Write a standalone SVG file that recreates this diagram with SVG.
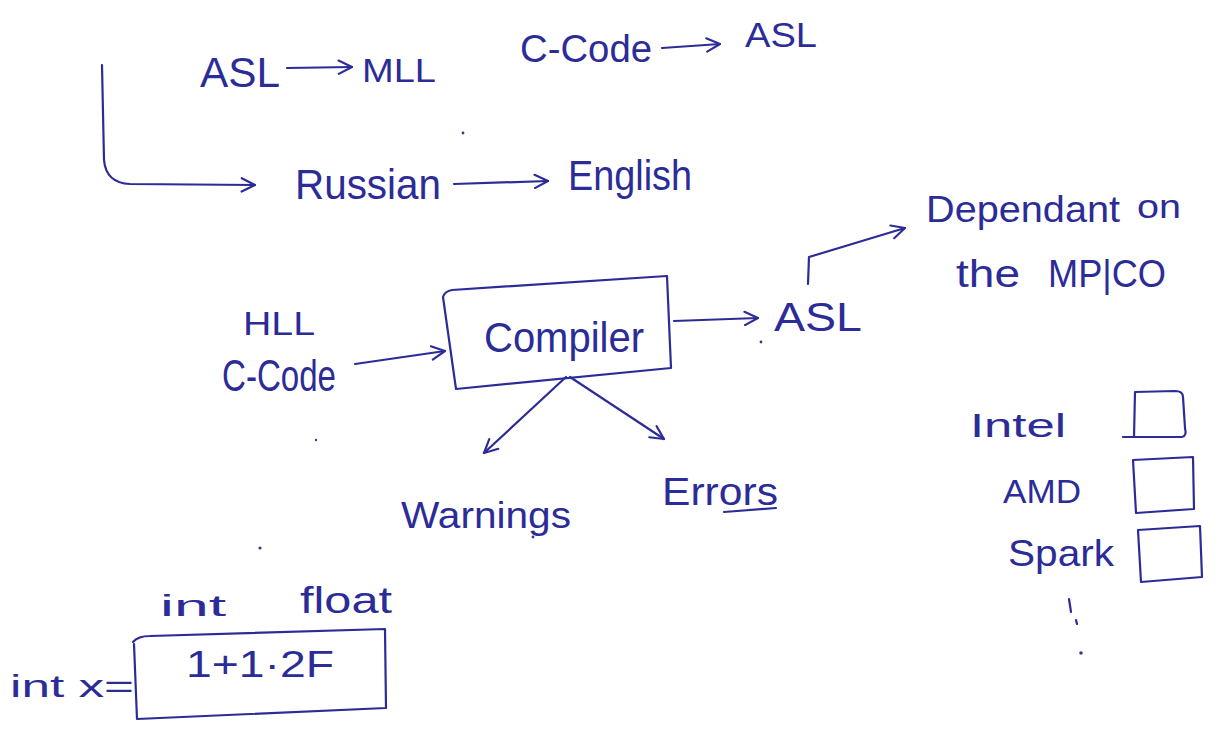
<svg xmlns="http://www.w3.org/2000/svg" width="1224" height="731" viewBox="0 0 1224 731">
  <style>
    .ink { fill: none; stroke: #2c2c98; stroke-width: 2.2; stroke-linecap: round; stroke-linejoin: round; }
    .t { fill: #2c2c98; font-family: "Liberation Sans", "DejaVu Sans", sans-serif; }
    .dot { fill: #3a3a80; }
  </style>
  <defs>
    <marker id="head" viewBox="0 0 12 12" refX="11" refY="6" markerWidth="16" markerHeight="16" markerUnits="userSpaceOnUse" orient="auto">
      <path d="M1,1 L11,6 L1,11" fill="none" stroke="#2c2c98" stroke-width="1.6" stroke-linecap="round" stroke-linejoin="round"/>
    </marker>
  </defs>
  <rect width="1224" height="731" fill="#ffffff"/>

  <!-- top row: translation examples -->
  <g id="asl-top">
    <text class="t" x="200" y="87" font-size="42" textLength="80" lengthAdjust="spacingAndGlyphs">ASL</text>
  </g>
  <g id="mll">
    <text class="t" x="362" y="82" font-size="34" textLength="74" lengthAdjust="spacingAndGlyphs">MLL</text>
  </g>
  <g id="ccode-top">
    <text class="t" x="520" y="62" font-size="38" textLength="132" lengthAdjust="spacingAndGlyphs">C-Code</text>
  </g>
  <g id="asl-right">
    <text class="t" x="745" y="47" font-size="35" textLength="72" lengthAdjust="spacingAndGlyphs">ASL</text>
  </g>
  <g id="russian">
    <text class="t" x="295" y="199" font-size="42" textLength="146" lengthAdjust="spacingAndGlyphs">Russian</text>
  </g>
  <g id="english">
    <text class="t" x="568" y="190" font-size="42" textLength="124" lengthAdjust="spacingAndGlyphs">English</text>
  </g>

  <!-- compiler stage -->
  <g id="hll-input">
    <text class="t" x="243" y="335" font-size="34" textLength="72" lengthAdjust="spacingAndGlyphs">HLL</text>
    <text class="t" x="222" y="391" font-size="44" textLength="114" lengthAdjust="spacingAndGlyphs">C-Code</text>
  </g>
  <g id="compiler">
    <path class="ink" d="M443,297 Q445,291 452,290 L667,276 L671,368 L456,389 Z"/>
    <text class="t" x="484" y="352" font-size="42" textLength="160" lengthAdjust="spacingAndGlyphs">Compiler</text>
  </g>
  <g id="asl-output">
    <text class="t" x="774" y="331" font-size="40" textLength="88" lengthAdjust="spacingAndGlyphs">ASL</text>
  </g>
  <g id="dependant">
    <text class="t" x="926" y="222" font-size="36" textLength="194" lengthAdjust="spacingAndGlyphs">Dependant</text>
    <text class="t" x="1137" y="218" font-size="34" textLength="44" lengthAdjust="spacingAndGlyphs">on</text>
    <text class="t" x="956" y="287" font-size="38" textLength="64" lengthAdjust="spacingAndGlyphs">the</text>
    <text class="t" x="1048" y="287" font-size="38" textLength="118" lengthAdjust="spacingAndGlyphs">MP|CO</text>
  </g>
  <g id="warnings">
    <text class="t" x="401" y="528" font-size="36" textLength="170" lengthAdjust="spacingAndGlyphs">Warnings</text>
  </g>
  <g id="errors">
    <text class="t" x="662" y="505" font-size="38" textLength="116" lengthAdjust="spacingAndGlyphs">Errors</text>
    <path class="ink" d="M724,512 L776,508"/>
  </g>

  <!-- processor checklist -->
  <g id="intel">
    <text class="t" x="970" y="437" font-size="34" textLength="96" lengthAdjust="spacingAndGlyphs">Intel</text>
    <path class="ink" d="M1123,437 L1182,437 Q1187,436 1185,428 L1183,397 Q1183,391 1175,391 L1135,392 L1134,437"/>
  </g>
  <g id="amd">
    <text class="t" x="1003" y="503" font-size="34" textLength="78" lengthAdjust="spacingAndGlyphs">AMD</text>
    <path class="ink" d="M1133,460 L1193,457 L1194,509 L1136,513 Z"/>
  </g>
  <g id="spark">
    <text class="t" x="1008" y="566" font-size="36" textLength="106" lengthAdjust="spacingAndGlyphs">Spark</text>
    <path class="ink" d="M1138,530 L1200,526 L1202,577 L1141,582 Z"/>
  </g>
  <g id="more">
    <path class="ink" d="M1069,599 L1071,612 M1076,620 L1077,624"/>
    <circle class="dot" cx="1081" cy="653" r="1.8"/>
  </g>

  <!-- type promotion example -->
  <g id="type-labels">
    <text class="t" x="160" y="616" font-size="30" textLength="66" lengthAdjust="spacingAndGlyphs">int</text>
    <text class="t" x="300" y="613" font-size="36" textLength="92" lengthAdjust="spacingAndGlyphs">float</text>
  </g>
  <g id="expression">
    <text class="t" x="10" y="697" font-size="32" textLength="124" lengthAdjust="spacingAndGlyphs">int x=</text>
    <path class="ink" d="M133,642 Q138,636 150,636 L385,629 L386,708 L137,719 L134,644"/>
    <text class="t" x="186" y="677" font-size="36" textLength="148" lengthAdjust="spacingAndGlyphs">1+1·2F</text>
  </g>

  <!-- connectors -->
  <g id="connectors">
    <path class="ink" d="M102,65 L104,160 Q106,183 130,184 L255,185" marker-end="url(#head)"/>
    <path class="ink" d="M287,68 L352,67" marker-end="url(#head)"/>
    <path class="ink" d="M662,48 L720,44" marker-end="url(#head)"/>
    <path class="ink" d="M454,184 L548,181" marker-end="url(#head)"/>
    <path class="ink" d="M355,364 L445,351" marker-end="url(#head)"/>
    <path class="ink" d="M674,321 L758,318" marker-end="url(#head)"/>
    <path class="ink" d="M808,284 L809,257 L905,228" marker-end="url(#head)"/>
    <path class="ink" d="M566,377 L484,453" marker-end="url(#head)"/>
    <path class="ink" d="M570,377 L664,439" marker-end="url(#head)"/>
  </g>

  <!-- pencil specks -->
  <g id="specks">
    <circle class="dot" cx="463" cy="133" r="1.4"/>
    <circle class="dot" cx="260" cy="548" r="1.6"/>
    <circle class="dot" cx="316" cy="440" r="1.2"/>
    <circle class="dot" cx="761" cy="342" r="1.4"/>
    <circle class="dot" cx="533" cy="537" r="1.4"/>
  </g>
</svg>
